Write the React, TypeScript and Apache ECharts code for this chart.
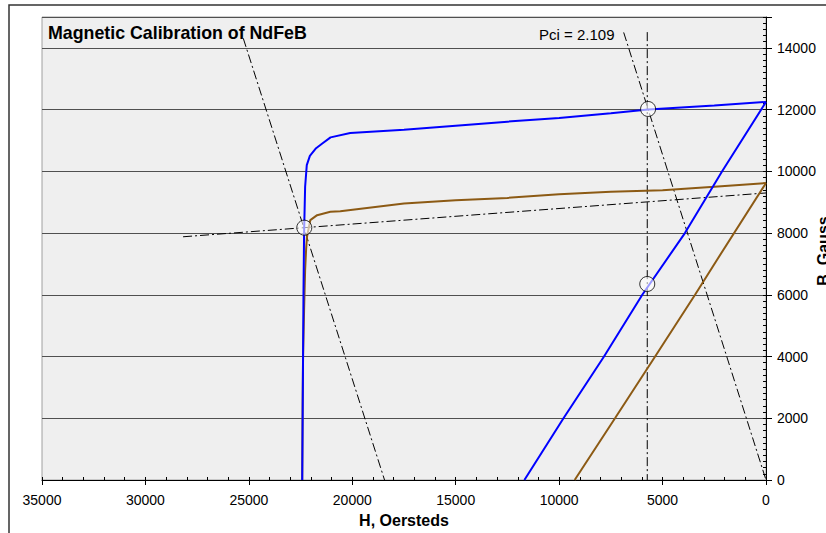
import React, { useEffect, useRef } from "react";
import * as echarts from "echarts";

// Demagnetization curve (blue)
const BLUE_CURVE_H = [22420, 22400, 22380, 22360, 22330, 22280, 22200, 22050, 21750, 21450, 21050, 20100, 17500, 15000, 12500, 10000, 7500, 5700, 2500, 0];
const BLUE_CURVE_B = [0, 2000, 4000, 6000, 8000, 9500, 10200, 10500, 10750, 10900, 11100, 11240, 11350, 11480, 11610, 11730, 11880, 12000, 12130, 12250];

// Demagnetization curve (brown)
const BROWN_CURVE_H = [22420, 22400, 22380, 22330, 22280, 22230, 22190, 22030, 21700, 21060, 20580, 17500, 15000, 12500, 10000, 7500, 5000, 2500, 0];
const BROWN_CURVE_B = [0, 2500, 4000, 5500, 6800, 7500, 7880, 8420, 8580, 8690, 8710, 8960, 9060, 9140, 9260, 9340, 9390, 9500, 9620];

// Normal lines
const BLUE_LINE_H = [11680, 9790, 7830, 5980, 3920, 2120, 0];
const BLUE_LINE_B = [0, 2000, 4000, 6000, 8000, 10000, 12250];
const BROWN_LINE_H = [9250, 7300, 5360, 3430, 2380, 0];
const BROWN_LINE_B = [0, 2000, 4000, 6000, 7120, 9620];

// Construction (dash-dot) lines
const STEEP_LINE_H = [25270, 18440];
const STEEP_LINE_B = [14310, 0];
const LOAD_LINE_H = [28180, -1400];
const LOAD_LINE_B = [7880, 9370];
const VERTICAL_LINE_H = [5740, 5740];
const VERTICAL_LINE_B = [14510, 0];
const PCI_LINE_H = [6880, 0];
const PCI_LINE_B = [14500, 0];

// Marked points
const MARK_H = [22320, 5700, 5740];
const MARK_B = [8175, 12020, 6350];

const TITLE = "Magnetic Calibration of NdFeB";
const PCI_LABEL = "Pci = 2.109";
const X_NAME = "H, Oersteds";
const Y_NAME = "B, Gauss";

const zip = (a: number[], b: number[]) => a.map((v, i) => [v, b[i]]);

const FONT = "Liberation Sans, Arial, sans-serif";

export default function App() {
  const ref = useRef<HTMLDivElement>(null);
  useEffect(() => {
    if (!ref.current) return;
    const chart = echarts.init(ref.current, null, { renderer: "svg" });
    const dashDot = { color: "#000", width: 1, type: [9, 3, 2, 3] as any };
    chart.setOption({
      animation: false,
      backgroundColor: "#fff",
      grid: {
        left: 42,
        right: 60,
        top: 17,
        bottom: 53,
        outerBoundsMode: "none",
        containLabel: false,
        show: true,
        backgroundColor: "#efefef",
        borderColor: "#a0a0a0",
        borderWidth: 1,
      },
      xAxis: [
        {
          type: "value",
          inverse: true,
          min: 0,
          max: 35000,
          interval: 5000,
          position: "bottom",
          axisLine: { show: true, onZero: false, lineStyle: { color: "#000", width: 1 } },
          axisTick: { show: true, length: 5, lineStyle: { color: "#000" } },
          axisLabel: { color: "#000", fontSize: 14, fontFamily: FONT, margin: 13, formatter: (v: number) => String(v) },
          splitLine: { show: false },
          name: X_NAME,
          nameLocation: "middle",
          nameGap: 32,
          nameTextStyle: { color: "#000", fontSize: 16, fontWeight: "bold", fontFamily: FONT },
        },
        {
          type: "value",
          inverse: true,
          min: 0,
          max: 35000,
          interval: 1000,
          position: "bottom",
          axisLine: { show: false, onZero: false },
          axisTick: { show: true, inside: true, length: 3, lineStyle: { color: "#000" } },
          axisLabel: { show: false },
          splitLine: { show: false },
        },
      ],
      yAxis: [
        {
          type: "value",
          min: 0,
          max: 15000,
          interval: 2000,
          position: "right",
          axisLine: { show: true, onZero: false, lineStyle: { color: "#000", width: 1 } },
          axisTick: { show: true, length: 6, lineStyle: { color: "#000" } },
          axisLabel: {
            color: "#000",
            fontSize: 14,
            fontFamily: FONT,
            margin: 11,
            formatter: (v: number) => (v % 2000 === 0 ? String(v) : ""),
          },
          splitLine: { show: true, lineStyle: { color: "#505050", width: 1 } },
        },
        {
          type: "value",
          min: 0,
          max: 15000,
          interval: 200,
          position: "right",
          axisLine: { show: false, onZero: false },
          axisTick: { show: true, inside: true, length: 3, lineStyle: { color: "#000" } },
          axisLabel: { show: false },
          splitLine: { show: false },
        },
      ],
      series: [
        { type: "line", data: zip(STEEP_LINE_H, STEEP_LINE_B), symbol: "none", lineStyle: dashDot, z: 3 },
        { type: "line", data: zip(LOAD_LINE_H, LOAD_LINE_B), symbol: "none", clip: false, lineStyle: dashDot, z: 3 },
        { type: "line", data: zip(VERTICAL_LINE_H, VERTICAL_LINE_B), symbol: "none", lineStyle: dashDot, z: 3 },
        { type: "line", data: zip(PCI_LINE_H, PCI_LINE_B), symbol: "none", lineStyle: dashDot, z: 3 },
        { type: "line", data: zip(BROWN_CURVE_H, BROWN_CURVE_B), symbol: "none", lineStyle: { color: "#8c5a14", width: 2 }, z: 4 },
        { type: "line", data: zip(BROWN_LINE_H, BROWN_LINE_B), symbol: "none", lineStyle: { color: "#8c5a14", width: 2 }, z: 4 },
        { type: "line", data: zip(BLUE_CURVE_H, BLUE_CURVE_B), symbol: "none", lineStyle: { color: "#0000ff", width: 2 }, z: 5 },
        { type: "line", data: zip(BLUE_LINE_H, BLUE_LINE_B), symbol: "none", lineStyle: { color: "#0000ff", width: 2 }, z: 5 },
        {
          type: "scatter",
          data: zip(MARK_H, MARK_B),
          symbol: "circle",
          symbolSize: 15,
          itemStyle: { color: "rgba(255,255,255,0.75)", borderColor: "#000", borderWidth: 1 },
          z: 6,
        },
      ],
      graphic: [
        {
          type: "rect",
          shape: { x: 9, y: 5, width: 840, height: 560 },
          style: { fill: "none", stroke: "#333", lineWidth: 1.5 },
          silent: true,
          z: 0,
        },
        {
          type: "text",
          x: 48,
          y: 33,
          style: { text: TITLE, font: `bold 17.8px ${FONT}`, fill: "#000", verticalAlign: "middle" },
          z: 10,
        },
        {
          type: "text",
          x: 539,
          y: 34,
          style: { text: PCI_LABEL, font: `15px ${FONT}`, fill: "#000", verticalAlign: "middle" },
          z: 10,
        },
        {
          type: "text",
          x: 823,
          y: 251,
          rotation: Math.PI / 2,
          style: { text: Y_NAME, font: `bold 16px ${FONT}`, fill: "#000", align: "center", verticalAlign: "middle" },
          z: 10,
        },
      ],
    });
    return () => chart.dispose();
  }, []);
  return <div ref={ref} style={{ position: "absolute", left: 0, top: 0, width: 826, height: 533 }} />;
}
